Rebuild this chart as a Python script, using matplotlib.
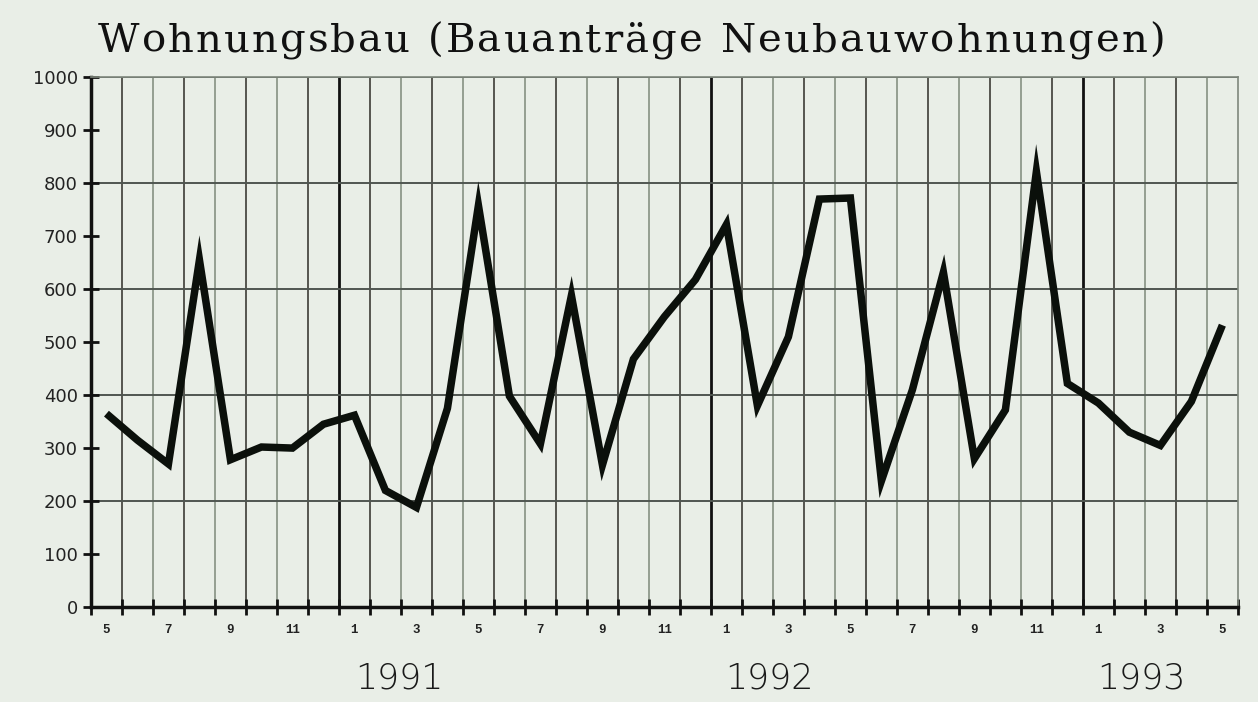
import matplotlib
matplotlib.use("Agg")
import matplotlib.pyplot as plt

# Bauanträge Neubauwohnungen, monthly, May 1990 .. May 1993
months = [5, 6, 7, 8, 9, 10, 11, 12,
          1, 2, 3, 4, 5, 6, 7, 8, 9, 10, 11, 12,
          1, 2, 3, 4, 5, 6, 7, 8, 9, 10, 11, 12,
          1, 2, 3, 4, 5]
values = [365, 315, 270, 655, 278, 302, 300, 345,
          362, 220, 188, 375, 758, 398, 308, 588, 268, 468, 548, 618,
          722, 380, 510, 770, 772, 238, 410, 632, 280, 372, 822, 422,
          385, 330, 305, 388, 532]
years = ["1991", "1992", "1993"]
year_pos = [9.95, 21.9, 33.9]
title = "Wohnungsbau (Bauanträge Neubauwohnungen)"

bg = "#e9eee7"
fig = plt.figure(figsize=(12.58, 7.02), dpi=100, facecolor=bg)
ax = fig.add_axes([0.0723, 0.1353, 0.9117, 0.7547])
ax.set_facecolor(bg)

n = len(values)
xs = [i + 0.5 for i in range(n)]

# month grid, heavier at year boundaries
for i in range(1, n):
    if months[i] == 1:
        ax.axvline(i, color="#111111", lw=2.0, zorder=1)
    else:
        col = "#4a4a44" if i % 2 else "#8e988a"
        ax.axvline(i, color=col, lw=1.3, zorder=1)
for y in range(200, 1001, 200):
    ax.axhline(y, color="#4f5550", lw=1.4, zorder=1)

ax.plot(xs, values, color="#0b100b", lw=5.4, solid_joinstyle="miter",
        solid_capstyle="butt", zorder=3)

ax.set_xlim(0, n)
ax.set_ylim(0, 1000)

ax.set_yticks(range(0, 1001, 100))
ax.set_yticklabels([str(v) for v in range(0, 1001, 100)],
                   fontsize=13, family="DejaVu Sans", color="#222222")
ax.tick_params(axis="y", direction="inout", length=11, width=2,
               color="#111111", pad=4)

ax.set_xticks(range(0, n + 1))
ax.set_xticklabels([])
ax.tick_params(axis="x", which="major", direction="inout", length=11,
               width=2, color="#111111")
ax.set_xticks(xs[::2], minor=True)
ax.set_xticklabels([str(m) for m in months[::2]], minor=True,
                   fontsize=9, family="Liberation Mono", fontweight="bold",
                   color="#222222")
ax.tick_params(axis="x", which="minor", length=0, pad=12)

for s in ["left", "bottom"]:
    ax.spines[s].set_linewidth(2.5)
    ax.spines[s].set_color("#111111")
for s in ["top", "right"]:
    ax.spines[s].set_linewidth(1.2)
    ax.spines[s].set_color("#7f877d")

for lbl, p in zip(years, year_pos):
    ax.text(p, -0.135, lbl, transform=ax.get_xaxis_transform(),
            ha="center", va="center", fontsize=25, fontweight="light",
            family="DejaVu Sans", color="#1a1a1a")

# title, slightly letter-spaced, laid out char by char
W = fig.get_figwidth() * fig.dpi
renderer = fig.canvas.get_renderer()
x0, x1 = 98.0, 1165.0
tprops = dict(fontsize=29, family="DejaVu Serif", color="#111111",
              ha="left", va="baseline")
widths = []
for ch in title:
    t = fig.text(0, 0, ch.replace(" ", "n"), **tprops)
    w = t.get_window_extent(renderer).width
    widths.append(w * 0.55 if ch == " " else w)
    t.remove()
track = (x1 - x0 - sum(widths)) / (len(title) - 1)
xc = x0
for ch, w in zip(title, widths):
    if ch != " ":
        fig.text(xc / W, 1 - 52.0 / 702, ch, **tprops)
    xc += w + track

fig.savefig("out.png", dpi=100, facecolor=bg)
